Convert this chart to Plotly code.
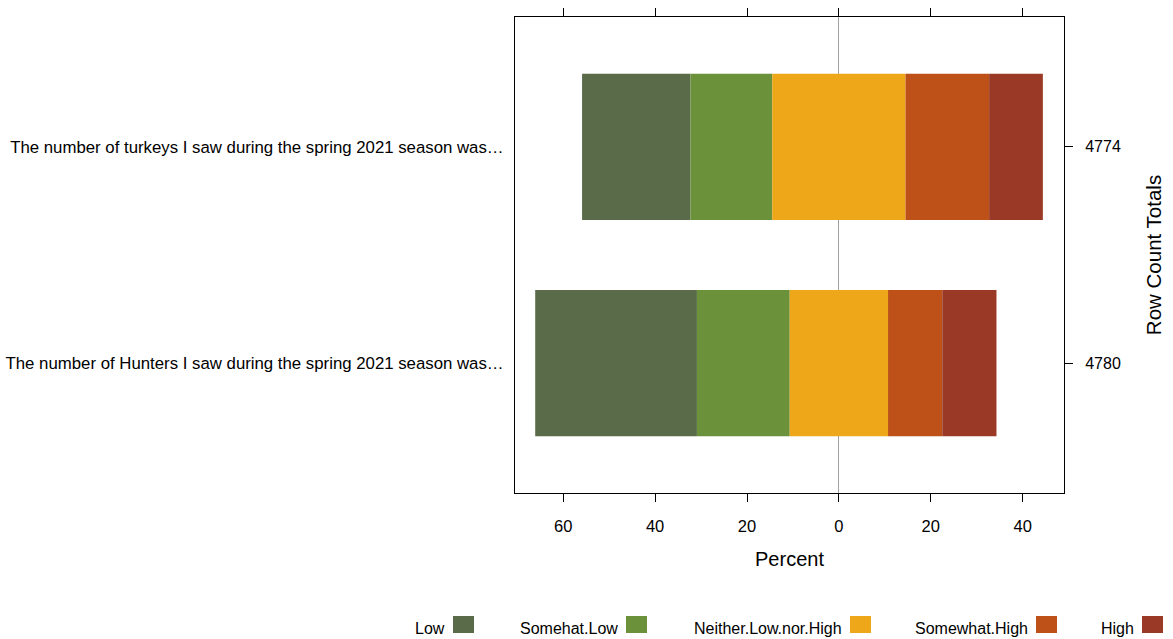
import numpy as np
import plotly.graph_objects as go

# ---- data ----
questions = [
    "The number of Hunters I saw during the spring 2021 season was…",
    "The number of turkeys I saw during the spring 2021 season was…",
]
row_totals = ["4780", "4774"]
levels = ["Low", "Somehat.Low", "Neither.Low.nor.High", "Somewhat.High", "High"]
low = [35.2, 23.6]
somewhat_low = [20.2, 17.8]
neither = [21.4, 29.0]
somewhat_high = [11.8, 18.2]
high = [11.8, 11.7]
colors = ["#5A6B4A", "#6B923A", "#EDA718", "#BD5118", "#9A3A26"]

series = [np.array(low), np.array(somewhat_low), np.array(neither),
          np.array(somewhat_high), np.array(high)]
ypos = np.arange(len(questions))

# diverging start: neutral split across zero
start = -(series[0] + series[1] + series[2] / 2.0)

fig = go.Figure()
base = start.copy()
for name, vals, col in zip(levels, series, colors):
    fig.add_trace(go.Bar(
        y=ypos, x=vals, base=base, orientation="h", name=name,
        marker=dict(color=col, line=dict(width=0)), width=0.676,
        showlegend=False, hoverinfo="x+name",
    ))
    base = base + vals

# invisible trace to activate right axis
fig.add_trace(go.Scatter(
    x=[0] * len(ypos), y=ypos, yaxis="y2", mode="markers",
    marker=dict(opacity=0), showlegend=False, hoverinfo="skip",
))

font = "Liberation Sans, Arial, sans-serif"

fig.update_layout(
    width=1173, height=639,
    margin=dict(l=515, r=109, t=17, b=146, autoexpand=False),
    paper_bgcolor="white", plot_bgcolor="white",
    barmode="overlay",
    font=dict(family=font, color="black", size=16),
    xaxis=dict(
        range=[-70.5, 49.0],
        tickvals=[-60, -40, -20, 0, 20, 40],
        ticktext=["60", "40", "20", "0", "20", "40"],
        ticks="outside", ticklen=8, tickcolor="black", tickwidth=1,
        showline=True, linecolor="black", linewidth=1, mirror="ticks",
        showgrid=False, zeroline=True, zerolinecolor="#A0A0A0", zerolinewidth=1,
        tickfont=dict(size=16.5), ticklabelstandoff=10,
        title=dict(text="Percent", font=dict(size=20), standoff=18),
        automargin=False,
    ),
    yaxis=dict(
        range=[-0.6, 1.6], tickvals=list(ypos), ticktext=questions,
        ticks="", showline=True, linecolor="black", linewidth=1, mirror=True,
        showgrid=False, zeroline=False, tickfont=dict(size=16.8),
        ticklabelstandoff=7, automargin=False,
    ),
    yaxis2=dict(
        range=[-0.6, 1.6], tickvals=list(ypos), ticktext=row_totals,
        overlaying="y", side="right", anchor="x",
        ticks="outside", ticklen=8, tickcolor="black",
        showline=False, showgrid=False, zeroline=False,
        tickfont=dict(size=16), ticklabelstandoff=9,
        title=dict(text="Row Count Totals", font=dict(size=20.5), standoff=26),
        automargin=False,
    ),
)

# custom legend: label followed by swatch
plot_l, plot_w = 515, 549
plot_b, plot_h = 493, 476
swatch_left_px = [453, 626, 850, 1036, 1142]
sw_w, sw_top, sw_bot = 21, 616, 633
for name, col, sx in zip(levels, colors, swatch_left_px):
    x0 = (sx - plot_l) / plot_w
    x1 = (sx + sw_w - plot_l) / plot_w
    y0 = (plot_b - sw_bot) / plot_h
    y1 = (plot_b - sw_top) / plot_h
    fig.add_shape(type="rect", xref="paper", yref="paper", x0=x0, x1=x1,
                  y0=y0, y1=y1, fillcolor=col, line=dict(width=0))
    fig.add_annotation(text=name, xref="paper", yref="paper",
                       x=(sx - 6 - plot_l) / plot_w, y=(y0 + y1) / 2 - 0.008,
                       xanchor="right", yanchor="middle", showarrow=False,
                       font=dict(size=16, family=font))

fig.write_html("out.html", config={"displayModeBar": False},
               post_script="document.body.style.margin='0';")
